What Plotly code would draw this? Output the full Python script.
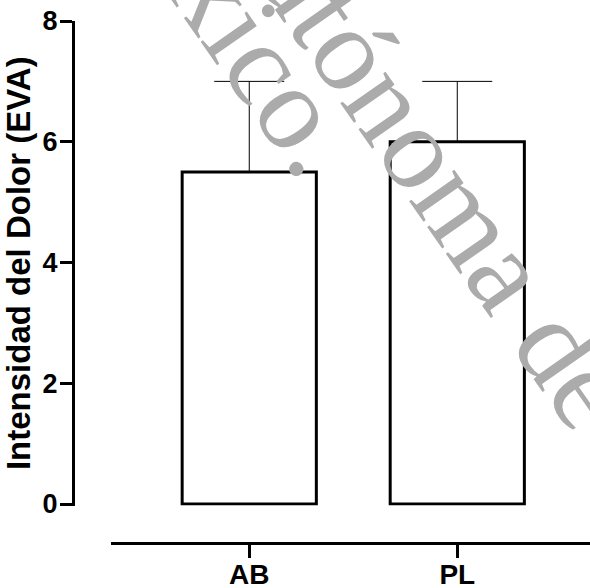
import plotly.graph_objects as go

# ---- data ----
categories = ["AB", "PL"]
means = [5.5, 6.0]
err_upper = [1.5, 1.0]
err_lower = [0.0, 0.0]
y_ticks = [0, 2, 4, 6, 8]
y_title = "Intensidad del Dolor (EVA)"
watermark_lines = ["México.", "Autónoma de"]

W, H = 590, 588
ML, MR, MT, MB = 73, 0, 20.7, 45
PW, PH = W - ML - MR, H - MT - MB

def px_to_paper(px, py):
    return (px - ML) / PW, (H - MB - py) / PH

fig = go.Figure()
fig.add_trace(go.Bar(
    x=categories, y=means, width=0.645,
    marker=dict(color="white", line=dict(color="black", width=3)),
    error_y=dict(type="data", symmetric=False, array=err_upper, arrayminus=err_lower,
                 color="black", thickness=1, width=35),
    showlegend=False,
))

# watermark (decorative)
wm_centers = [(220, -2), (421, 147)]
for txt, (cx, cy) in zip(watermark_lines, wm_centers):
    xp, yp = px_to_paper(cx, cy)
    fig.add_annotation(text=txt, x=xp, y=yp, xref="paper", yref="paper",
                       xanchor="center", yanchor="middle", showarrow=False,
                       textangle=55,
                       font=dict(family="Liberation Serif", size=120, color="#ababab"))

x_left = 110.7
fig.update_layout(
    width=W, height=H,
    margin=dict(l=ML, r=MR, t=MT, b=MB, pad=0, autoexpand=False),
    paper_bgcolor="white", plot_bgcolor="white",
    font=dict(family="Liberation Sans", color="black"),
    xaxis=dict(
        domain=[(x_left - ML) / PW, 1], anchor="free", position=0,
        type="category", range=[-0.666, 1.638], automargin=False,
        showline=True, linewidth=3, linecolor="black",
        ticks="outside", ticklen=13, tickwidth=3, tickcolor="black",
        ticklabelstandoff=-8,
        tickfont=dict(size=28, weight="bold", family="Liberation Sans"),
        showgrid=False, zeroline=False, fixedrange=True,
    ),
    yaxis=dict(
        domain=[(543 - 505.5) / PH, 1], anchor="free", position=0,
        range=[-0.025, 8], tickvals=y_ticks, automargin=False,
        showline=True, linewidth=3, linecolor="black",
        ticks="outside", ticklen=12, tickwidth=3, tickcolor="black",
        ticklabelstandoff=-3,
        tickfont=dict(size=27, weight="bold", family="Liberation Sans"),
        showgrid=False, zeroline=False,
        title=dict(text=y_title, standoff=4,
                   font=dict(size=33, weight="bold", family="Liberation Sans")),
    ),
)

fig.write_html("out.html", config={"displayModeBar": False},
               post_script="document.body.style.margin='0';document.body.style.overflow='hidden';")
